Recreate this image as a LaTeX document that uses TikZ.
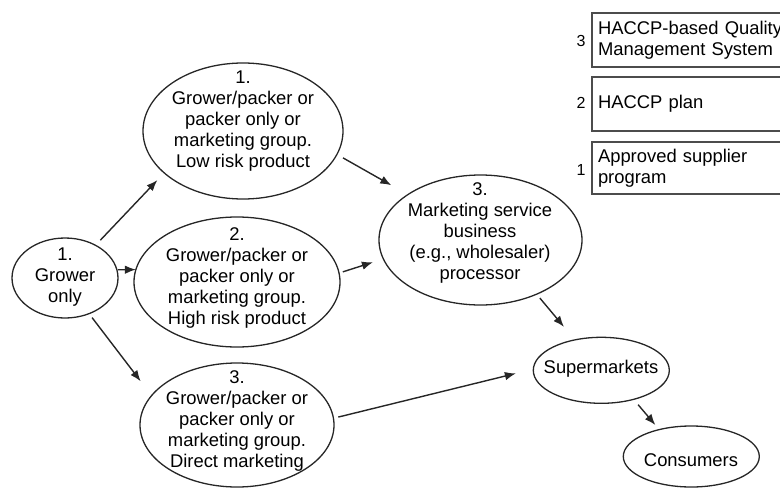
\documentclass[tikz,border=0pt]{standalone}
\usepackage{fontspec}
\setmainfont{Liberation Sans}
\usetikzlibrary{arrows.meta,shapes.geometric}
\begin{document}
\begin{tikzpicture}[x=1pt,y=-1pt,
 oval/.style={ellipse,draw=black!85,line width=1.3pt,inner sep=0pt,outer sep=0pt},
 txt/.style={align=center,inner sep=0pt,font=\fontsize{18.4}{21}\selectfont},
 arr/.style={draw=black!85,line width=1.4pt,-{Latex[length=11pt,width=8.5pt]}},
 qbox/.style={draw=black!70,line width=1.8pt,anchor=north west,text width=200pt,align=left,inner xsep=6pt,inner ysep=0pt,outer sep=0pt,font=\fontsize{18.4}{21}\selectfont},
 num/.style={font=\fontsize{16}{18}\selectfont,inner sep=0pt}]
\useasboundingbox (0,0) rectangle (780,488);
\clip (0,0) rectangle (780,488);

% quality boxes
\node[qbox,minimum height=54pt] (b3) at (592,13) {HACCP-based Quality\\Management System};
\node[qbox,minimum height=54pt] (b2) at (592,77) {HACCP plan};
\node[qbox,minimum height=52pt] (b1) at (592,142) {Approved supplier\\program};
\node[num] (n3) at (581,41) {3};
\node[num] (n2) at (581,103) {2};
\node[num] (n1) at (581,170) {1};

% ovals
\node[oval,minimum width=106pt,minimum height=80pt] (g) at (65,278) {};
\node[txt] (gt) at (65,277) {1.\\Grower\\only};
\node[oval,minimum width=200pt,minimum height=136pt] (e1) at (243,131) {};
\node[txt] (e1t) at (243,121) {1.\\Grower/packer or\\packer only or\\marketing group.\\Low risk product};
\node[oval,minimum width=206pt,minimum height=130pt] (e2) at (237,282) {};
\node[txt] (e2t) at (237,278) {2.\\Grower/packer or\\packer only or\\marketing group.\\High risk product};
\node[oval,minimum width=194pt,minimum height=124pt] (e3) at (237,425) {};
\node[txt] (e3t) at (237,421) {3.\\Grower/packer or\\packer only or\\marketing group.\\Direct marketing};
\node[oval,minimum width=203pt,minimum height=130pt] (m) at (480.5,240) {};
\node[txt] (mt) at (480,233) {3.\\Marketing service\\business\\(e.g., wholesaler)\\processor};
\node[oval,minimum width=136pt,minimum height=66pt] (s) at (601.3,370.3) {};
\node[txt] (st) at (601,369) {Supermarkets};
\node[oval,minimum width=136pt,minimum height=61pt] (c) at (691.3,456.5) {};
\node[txt] (ct) at (691,460) {Consumers};

% connectors
\draw[arr,shorten <=7pt,shorten >=10pt] (g.47) -- (e1.208);
\draw[arr,shorten <=1pt] (g.9) -- (e2.173);
\draw[arr,shorten <=5pt,shorten >=18pt] (g.-56) -- (e3.161);
\draw[arr,shorten <=7pt,shorten >=19pt] (e1.-14) -- (m.148);
\draw[arr,shorten <=4pt,shorten >=11pt] (e2.5) -- (m.191);
\draw[arr,shorten <=5pt,shorten >=18pt] (e3.4) -- (s.179);
\draw[arr,shorten <=5pt,shorten >=17pt] (m.-44) -- (s.131);
\draw[arr,shorten <=7pt,shorten >=6pt] (s.-42) -- (c.140);
\end{tikzpicture}
\end{document}
